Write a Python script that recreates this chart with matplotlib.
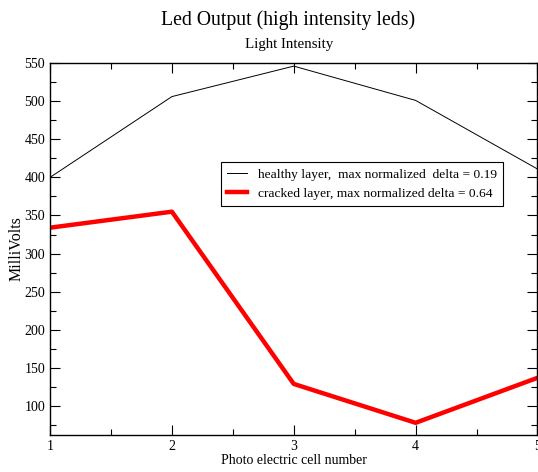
import matplotlib
matplotlib.use("Agg")
import matplotlib.pyplot as plt
from matplotlib.ticker import MultipleLocator

cells = [1, 2, 3, 4, 5]
healthy = [400, 506, 546, 501, 411]
cracked = [334, 355, 129, 78, 137]
healthy_label = "healthy layer,  max normalized  delta = 0.19"
cracked_label = "cracked layer, max normalized delta = 0.64"

plt.rcParams['font.family'] = ['Liberation Serif', 'DejaVu Serif']

fig = plt.figure(figsize=(5.38, 4.72), dpi=100)
ax = fig.add_axes([0.093, 0.0784, 0.906, 0.788])

ax.plot(cells, healthy, color='black', lw=0.7, label=healthy_label)
ax.plot(cells, cracked, color='#ff0000', lw=3.2, label=cracked_label)

ax.set_xlim(1, 5)
ax.set_ylim(62, 550)
ax.xaxis.set_major_locator(MultipleLocator(1))
ax.xaxis.set_minor_locator(MultipleLocator(0.5))
ax.yaxis.set_major_locator(MultipleLocator(50))
ax.yaxis.set_minor_locator(MultipleLocator(25))
ax.tick_params(which='both', direction='in', top=True, right=True, labelsize=10)
ax.tick_params(which='major', length=7, width=0.8)
ax.tick_params(which='minor', length=4, width=0.8)
for s in ax.spines.values():
    s.set_linewidth(1.0)

ax.set_xlabel("Photo electric cell number", fontsize=10, labelpad=1)
ax.set_ylabel("MilliVolts", fontsize=11.5, labelpad=0)

fig.text(0.535, 0.957, "Led Output (high intensity leds)", ha='center', va='center', fontsize=14.2)
fig.text(0.537, 0.906, "Light Intensity", ha='center', va='center', fontsize=10.8)

leg = ax.legend(loc='upper left', bbox_to_anchor=(0.351, 0.733), fontsize=9.7,
                frameon=True, fancybox=False, edgecolor='black', framealpha=1,
                borderpad=0.45, handlelength=1.45, handletextpad=0.85,
                borderaxespad=0, labelspacing=0.5)
leg.get_frame().set_linewidth(0.8)

fig.savefig("out.png", dpi=100)
